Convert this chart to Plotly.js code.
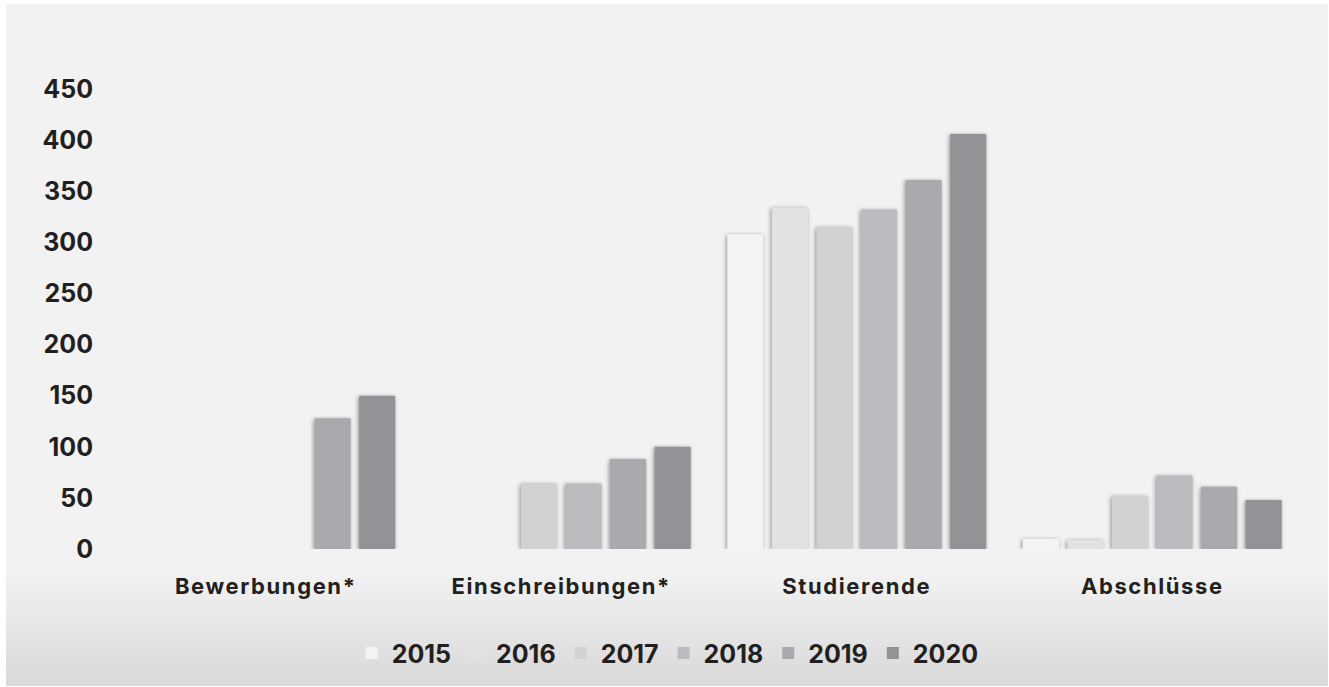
<!DOCTYPE html>
<html>
<head>
<meta charset="utf-8">
<script src="https://cdn.plot.ly/plotly-3.0.1.min.js"></script>
<style>
  html, body { margin: 0; padding: 0; background: #ffffff; }
  #chart {
    position: absolute; left: 6px; top: 4px; width: 1322px; height: 682px;
    background: linear-gradient(to bottom, #f2f2f2 0px, #f2f2f2 568px, #d9d9d9 682px);
  }
  #chart .bars .point path { filter: drop-shadow(-1px 1px 2px rgba(0,0,0,0.4)); }
  #chart .xtick text { letter-spacing: 1.6px; }
</style>
</head>
<body>
<div id="chart"></div>
<script>
'use strict'

var categories = ['Bewerbungen*', 'Einschreibungen*', 'Studierende', 'Abschlüsse'];
var years = ['2015', '2016', '2017', '2018', '2019', '2020'];

var v2015 = [null, null, 308, 10];
var v2016 = [null, null, 334, 9];
var v2017 = [null, 64, 315, 52];
var v2018 = [null, 64, 332, 72];
var v2019 = [128, 88, 361, 61];
var v2020 = [150, 100, 406, 48];

var yTicks = [0, 50, 100, 150, 200, 250, 300, 350, 400, 450];

var colors = ['#f3f4f6', '#e1e2e4', '#d1d2d4', '#bbbcbf', '#a9aaad', '#929397'];
var series = [v2015, v2016, v2017, v2018, v2019, v2020];

var textColor = '#231f20';
var fontFam = 'Inter, "Liberation Sans", sans-serif';

var data = [];
for (var i = 0; i < years.length; i++) {
    data.push({
        type: 'bar',
        name: years[i],
        x: categories,
        y: series[i],
        marker: { color: colors[i] },
        hoverinfo: 'skip'
    });
}

var layout = {
    width: 1322,
    height: 682,
    margin: { l: 112, r: 28, t: 85, b: 137, autoexpand: false },
    paper_bgcolor: 'rgba(0,0,0,0)',
    plot_bgcolor: 'rgba(0,0,0,0)',
    barmode: 'group',
    bargap: 0.095,
    bargroupgap: 0.19,
    showlegend: true,
    legend: {
        orientation: 'h',
        x: 0.465,
        xanchor: 'center',
        yref: 'container',
        y: 0.048,
        yanchor: 'middle',
        font: { family: fontFam, size: 25, color: textColor, weight: 700 },
        bgcolor: 'rgba(0,0,0,0)'
    },
    xaxis: {
        type: 'category',
        showgrid: false,
        showline: false,
        zeroline: false,
        ticks: '',
        ticklabelstandoff: 22,
        tickfont: { family: fontFam, size: 22, color: textColor, weight: 700 }
    },
    yaxis: {
        range: [0, 450],
        tickvals: yTicks,
        showgrid: false,
        showline: false,
        zeroline: false,
        ticks: '',
        ticklabelstandoff: 24,
        tickfont: { family: fontFam, size: 25, color: textColor, weight: 700 }
    }
};

Plotly.newPlot('chart', data, layout, { displayModeBar: false, staticPlot: true });
</script>
</body>
</html>
